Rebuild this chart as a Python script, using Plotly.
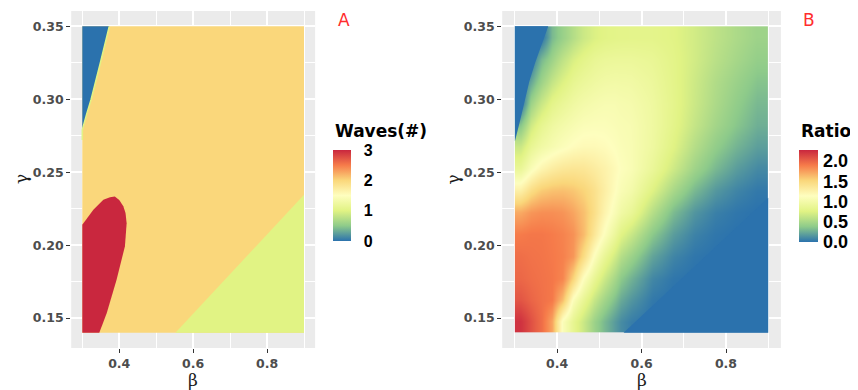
import plotly.graph_objects as go

# ---------------- Panel A : number of waves (region boundaries, beta/gamma) ----------------
a_extent_beta = [0.30, 0.90, 0.90, 0.30]
a_extent_gamma = [0.14, 0.14, 0.35, 0.35]
a_blue_beta = [0.300, 0.300, 0.312, 0.324, 0.349, 0.373]
a_blue_gamma = [0.350, 0.279, 0.290, 0.300, 0.325, 0.350]
a_edge_beta = [0.300, 0.300, 0.312, 0.324, 0.349, 0.373]
a_edge_gamma = [0.272, 0.279, 0.290, 0.300, 0.325, 0.350]
a_red_beta = [0.300, 0.346, 0.366, 0.393, 0.4154, 0.420, 0.417, 0.411, 0.400, 0.388, 0.375, 0.357, 0.330, 0.300]
a_red_gamma = [0.140, 0.140, 0.1534, 0.1764, 0.1992, 0.215, 0.222, 0.2266, 0.231, 0.2333, 0.2328, 0.2312, 0.2242, 0.214]
a_green_beta = [0.552, 0.900, 0.900]
a_green_gamma = [0.140, 0.140, 0.2345]
wave_ticks = [0, 1, 2, 3]

# ---------------- Panel B : ratio (cell edges and values at cell centres) ----------------
b_beta_edges = [0.30, 0.325, 0.35, 0.375, 0.40, 0.425, 0.45, 0.475, 0.50, 0.525, 0.55,
                0.60, 0.65, 0.70, 0.75, 0.80, 0.85, 0.90]
b_gamma_edges = [0.14, 0.155, 0.17, 0.185, 0.20, 0.215, 0.23, 0.245, 0.26, 0.275, 0.29,
                 0.305, 0.32, 0.335, 0.35]
b_ratio = [
    [2.22, 2.08, 1.95, 1.72, 1.10, 0.85, 0.65, 0.45, 0.30, 0.17, 0.05, 0.00, 0.00, 0.00, 0.00, 0.00, 0.00],
    [2.06, 1.99, 1.94, 1.90, 1.62, 1.10, 0.86, 0.64, 0.47, 0.32, 0.15, 0.03, 0.00, 0.00, 0.00, 0.00, 0.00],
    [1.98, 1.95, 1.93, 1.91, 1.85, 1.52, 1.12, 0.87, 0.66, 0.48, 0.27, 0.09, 0.02, 0.00, 0.00, 0.00, 0.00],
    [1.95, 1.93, 1.92, 1.90, 1.87, 1.78, 1.46, 1.12, 0.87, 0.67, 0.44, 0.21, 0.08, 0.02, 0.00, 0.00, 0.00],
    [1.89, 1.91, 1.91, 1.89, 1.86, 1.80, 1.63, 1.36, 1.11, 0.89, 0.64, 0.37, 0.18, 0.07, 0.02, 0.00, 0.00],
    [1.70, 1.78, 1.81, 1.81, 1.79, 1.72, 1.61, 1.44, 1.23, 1.06, 0.87, 0.56, 0.31, 0.15, 0.06, 0.02, 0.00],
    [1.27, 1.45, 1.56, 1.60, 1.61, 1.58, 1.52, 1.42, 1.28, 1.14, 1.00, 0.75, 0.50, 0.30, 0.16, 0.08, 0.03],
    [0.88, 1.08, 1.22, 1.30, 1.35, 1.37, 1.36, 1.31, 1.25, 1.17, 1.07, 0.89, 0.67, 0.46, 0.30, 0.18, 0.10],
    [0.65, 0.86, 0.97, 1.04, 1.10, 1.15, 1.18, 1.18, 1.16, 1.12, 1.06, 0.94, 0.76, 0.56, 0.40, 0.28, 0.19],
    [0.35, 0.67, 0.84, 0.94, 1.00, 1.05, 1.09, 1.10, 1.10, 1.08, 1.05, 0.95, 0.80, 0.63, 0.48, 0.36, 0.26],
    [0.00, 0.45, 0.65, 0.80, 0.88, 0.95, 1.00, 1.03, 1.05, 1.05, 1.02, 0.94, 0.81, 0.66, 0.52, 0.40, 0.30],
    [0.00, 0.22, 0.45, 0.62, 0.74, 0.84, 0.90, 0.94, 0.97, 0.98, 0.97, 0.91, 0.80, 0.67, 0.54, 0.44, 0.35],
    [0.00, 0.00, 0.30, 0.45, 0.60, 0.72, 0.80, 0.86, 0.89, 0.90, 0.90, 0.87, 0.79, 0.69, 0.58, 0.49, 0.41],
    [0.00, 0.00, 0.00, 0.30, 0.43, 0.55, 0.66, 0.73, 0.77, 0.79, 0.80, 0.80, 0.77, 0.69, 0.60, 0.52, 0.45],
]
b_ratio_max = 2.27
b_zero_ul_beta = [0.300, 0.300, 0.312, 0.324, 0.334, 0.348, 0.362, 0.379]
b_zero_ul_gamma = [0.350, 0.271, 0.285, 0.300, 0.312, 0.325, 0.337, 0.350]
b_zero_lr_beta = [0.5575, 0.900, 0.900]
b_zero_lr_gamma = [0.140, 0.140, 0.2325]
ratio_ticks = [0.0, 0.5, 1.0, 1.5, 2.0]
ratio_ticktext = ["0.0", "0.5", "1.0", "1.5", "2.0"]

beta_ticks = [0.4, 0.6, 0.8]
beta_ticktext = ["0.4", "0.6", "0.8"]
beta_minor = [0.3, 0.5, 0.7, 0.9]
gamma_ticks = [0.15, 0.20, 0.25, 0.30, 0.35]
gamma_ticktext = ["0.15", "0.20", "0.25", "0.30", "0.35"]
gamma_minor = [0.175, 0.225, 0.275, 0.325]

# colour palette (reversed Spectral, as in the figure)
pal = ["#2B72AD", "#8ECB8A", "#E1F384", "#FEFEBF", "#FAD77B", "#F67B4A", "#C9273E"]
cscale = [[i / 6, c] for i, c in enumerate(pal)]
wave_colour = {0: pal[0], 1: pal[2], 2: pal[4], 3: pal[6]}

# the page body has an 8px margin: figure is 850x382 placed at (8, 8)
W, H, OFF = 850, 382, 8


def px(X):
    return (X - OFF) / W


def py(Y):
    return 1 - (Y - OFF) / H


fig = go.Figure()


def poly(xs, ys, colour, xa, ya):
    return go.Scatter(x=xs, y=ys, mode="lines", fill="toself", fillcolor=colour,
                      line=dict(width=0, color=colour), hoverinfo="skip",
                      showlegend=False, xaxis=xa, yaxis=ya)


# colourbar geometry (pixels in the 858x390 picture)
cbA = dict(left=333.3, top=150.0, length=91.0, thick=18.0)
cbB = dict(left=798.5, top=150.0, length=92.0, thick=19.0)

# Panel A
fig.add_trace(poly(a_extent_beta, a_extent_gamma, wave_colour[2], "x", "y"))
fig.add_trace(poly(a_green_beta, a_green_gamma, wave_colour[1], "x", "y"))
fig.add_trace(poly(a_red_beta, a_red_gamma, wave_colour[3], "x", "y"))
fig.add_trace(poly(a_blue_beta, a_blue_gamma, wave_colour[0], "x", "y"))
fig.add_trace(go.Scatter(x=a_edge_beta, y=a_edge_gamma, mode="lines",
                         line=dict(width=1.5, color=wave_colour[1]), hoverinfo="skip",
                         showlegend=False, xaxis="x", yaxis="y"))

fig.add_trace(go.Scatter(
    x=[a_extent_beta[0]], y=[a_extent_gamma[0]], mode="markers",
    marker=dict(size=0.1, opacity=0, color=[0], cmin=min(wave_ticks), cmax=max(wave_ticks),
                colorscale=cscale, showscale=True,
                colorbar=dict(x=px(cbA["left"]), xanchor="left", y=py(cbA["top"]), yanchor="top",
                              lenmode="pixels", len=cbA["length"], thicknessmode="pixels",
                              thickness=cbA["thick"], xpad=0, ypad=0, outlinewidth=0,
                              tickvals=wave_ticks, ticktext=[str(v) for v in wave_ticks],
                              ticks="outside", ticklen=10, tickcolor="rgba(0,0,0,0)",
                              tickfont=dict(family="Liberation Sans", size=16, color="black",
                                            weight="bold"))),
    hoverinfo="skip", showlegend=False, xaxis="x", yaxis="y"))

# Panel B
fig.add_trace(go.Heatmap(
    x=b_beta_edges, y=b_gamma_edges, z=b_ratio, zsmooth="best",
    colorscale=cscale, zmin=0, zmax=b_ratio_max, hoverinfo="skip",
    colorbar=dict(x=px(cbB["left"]), xanchor="left", y=py(cbB["top"]), yanchor="top",
                  lenmode="pixels", len=cbB["length"], thicknessmode="pixels",
                  thickness=cbB["thick"], xpad=0, ypad=0, outlinewidth=0,
                  tickvals=ratio_ticks, ticktext=ratio_ticktext,
                  ticks="outside", ticklen=2, tickcolor="rgba(0,0,0,0)",
                  tickfont=dict(family="Liberation Sans", size=18, color="black", weight="bold")),
    xaxis="x2", yaxis="y2"))
fig.add_trace(poly(b_zero_ul_beta, b_zero_ul_gamma, pal[0], "x2", "y2"))
fig.add_trace(poly(b_zero_lr_beta, b_zero_lr_gamma, pal[0], "x2", "y2"))

# white tick marks inside the colourbars (ggplot style)
shapes = []
for cb, ticks, vmax in [(cbA, wave_ticks, max(wave_ticks)), (cbB, ratio_ticks, b_ratio_max)]:
    for v in ticks:
        Y = cb["top"] + cb["length"] * (1 - v / vmax)
        if Y <= cb["top"] + 1 or Y >= cb["top"] + cb["length"] - 1:
            continue
        for x0, x1 in [(cb["left"], cb["left"] + 3.6), (cb["left"] + cb["thick"] - 3.6, cb["left"] + cb["thick"])]:
            shapes.append(dict(type="line", xref="paper", yref="paper", x0=px(x0), x1=px(x1),
                               y0=py(Y), y1=py(Y), line=dict(color="white", width=1)))

tickfont = dict(family="DejaVu Sans", size=12.5, color="#4D4D4D", weight="bold")
common = dict(showline=False, zeroline=False, ticks="outside", ticklen=4, tickwidth=1,
              tickcolor="#333333", showgrid=True, gridcolor="white", gridwidth=1.6,
              tickfont=tickfont, automargin=False, fixedrange=True)
xcommon = dict(common, range=[0.27, 0.93], tickvals=beta_ticks, ticktext=beta_ticktext,
               minor=dict(tickvals=beta_minor, showgrid=True, gridcolor="white", gridwidth=0.8, ticks=""))
ycommon = dict(common, range=[0.1295, 0.3605], tickvals=gamma_ticks, ticktext=gamma_ticktext,
               minor=dict(tickvals=gamma_minor, showgrid=True, gridcolor="white", gridwidth=0.8, ticks=""))
ydom = [py(348), py(11)]

fig.update_layout(
    width=W, height=H, margin=dict(l=0, r=0, t=0, b=0),
    paper_bgcolor="white", plot_bgcolor="#EBEBEB", showlegend=False,
    xaxis=dict(xcommon, domain=[px(71.2), px(315.1)], anchor="y"),
    yaxis=dict(ycommon, domain=ydom, anchor="x"),
    xaxis2=dict(xcommon, domain=[px(502.2), px(780.9)], anchor="y2"),
    yaxis2=dict(ycommon, domain=ydom, anchor="x2"),
    shapes=shapes,
)

greek = dict(family="DejaVu Serif", size=17, color="#1A1A1A")
ann = []
for cx, cyl in [(193.0, 20.5), (641.5, 452.0)]:
    ann.append(dict(text="β", x=px(cx), y=py(380), xref="paper", yref="paper",
                    xanchor="center", yanchor="middle", showarrow=False, font=greek))
    ann.append(dict(text="γ", x=px(cyl), y=py(179.5), xref="paper", yref="paper",
                    xanchor="center", yanchor="middle", textangle=-90, showarrow=False, font=greek))
label_font = dict(family="DejaVu Sans", size=17, color="#FF2D2D")
ann.append(dict(text="A", x=px(343.5), y=py(20), xref="paper", yref="paper",
                xanchor="center", yanchor="middle", showarrow=False, font=label_font))
ann.append(dict(text="B", x=px(808.5), y=py(20), xref="paper", yref="paper",
                xanchor="center", yanchor="middle", showarrow=False, font=label_font))
title_font = dict(family="DejaVu Sans", size=17, color="black", weight="bold")
ann.append(dict(text="Waves(#)", x=px(333.3), y=py(131), xref="paper", yref="paper",
                xanchor="left", yanchor="middle", showarrow=False, font=title_font))
ann.append(dict(text="Ratio", x=px(799.0), y=py(131), xref="paper", yref="paper",
                xanchor="left", yanchor="middle", showarrow=False, font=title_font))
fig.update_layout(annotations=ann)

fig.write_html("out.html")
